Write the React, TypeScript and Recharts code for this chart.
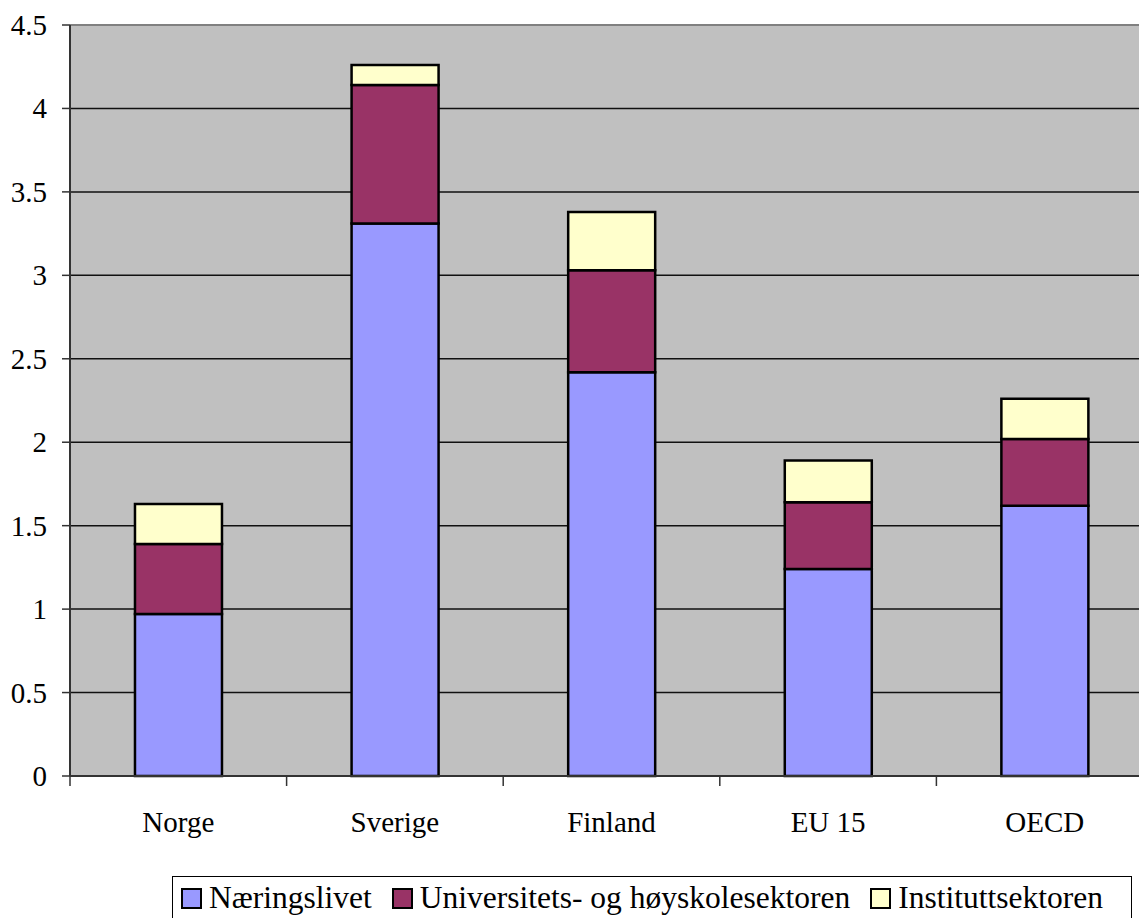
import React from 'react';
import { BarChart, Bar, XAxis, YAxis, CartesianGrid, ReferenceLine } from 'recharts';

const countries = ['Norge', 'Sverige', 'Finland', 'EU 15', 'OECD'];
const naeringslivet = [0.97, 3.31, 2.42, 1.24, 1.62];
const universitet = [0.42, 0.83, 0.61, 0.40, 0.40];
const institutt = [0.24, 0.12, 0.35, 0.25, 0.24];
const yTicks = [0, 0.5, 1, 1.5, 2, 2.5, 3, 3.5, 4, 4.5];

const series = [
  { key: 'naeringslivet', name: 'Næringslivet', color: '#9999ff' },
  { key: 'universitet', name: 'Universitets- og høyskolesektoren', color: '#993366' },
  { key: 'institutt', name: 'Instituttsektoren', color: '#ffffcc' },
];

const data = countries.map((name, i) => ({
  name,
  naeringslivet: naeringslivet[i],
  universitet: universitet[i],
  institutt: institutt[i],
}));

const font = '"Liberation Serif", "Times New Roman", serif';

const CHART_W = 1160;
const MARGIN = { top: 25, right: 7, left: 0, bottom: 0 };
const Y_W = 70;
const BAND = (CHART_W - MARGIN.left - MARGIN.right - Y_W) / countries.length;

// category label plus an Excel-style tick at the left edge of each category band
const CategoryTick = (props: any) => {
  const { x, y, payload } = props;
  const left = x - BAND / 2;
  return (
    <g>
      <line x1={left} y1={y} x2={left} y2={y + 10} stroke="#333" strokeWidth={1.5} />
      <text x={x} y={y} dy={56} textAnchor="middle" fill="#000" fontSize={29} fontFamily={font}>
        {payload.value}
      </text>
    </g>
  );
};

const ValueTick = (props: any) => {
  const { x, y, payload } = props;
  return (
    <text x={x} y={y} dy={10} textAnchor="end" fill="#000" fontSize={29} fontFamily={font}>
      {payload.value}
    </text>
  );
};

const App: React.FC = () => {
  return (
    <div style={{ position: 'absolute', left: 0, top: 0, width: 1139, height: 918, overflow: 'hidden', background: '#fff' }}>
      <BarChart
        width={CHART_W}
        height={860}
        data={data}
        margin={MARGIN}
        barCategoryGap="30%"
      >
        <CartesianGrid vertical={false} fill="#c0c0c0" stroke="#111" strokeWidth={1.5} />
        <XAxis
          dataKey="name"
          height={84}
          axisLine={{ stroke: '#333', strokeWidth: 2 }}
          tickLine={false}
          tickSize={0}
          tickMargin={0}
          tick={<CategoryTick />}
          interval={0}
        />
        <YAxis
          domain={[0, 4.5]}
          ticks={yTicks}
          width={Y_W}
          tickSize={8}
          tickMargin={15}
          axisLine={{ stroke: '#333', strokeWidth: 2 }}
          tickLine={{ stroke: '#333', strokeWidth: 1.5 }}
          tick={<ValueTick />}
        />
        <ReferenceLine y={4.5} stroke="#808080" strokeWidth={2} />
        {series.map((s) => (
          <Bar
            key={s.key}
            dataKey={s.key}
            name={s.name}
            stackId="a"
            fill={s.color}
            stroke="#000"
            strokeWidth={2.5}
            isAnimationActive={false}
          />
        ))}
      </BarChart>
      <div
        style={{
          position: 'absolute',
          left: 172,
          top: 876,
          width: 960,
          height: 60,
          boxSizing: 'border-box',
          border: '1.5px solid #000',
          display: 'flex',
          flexWrap: 'nowrap',
          alignItems: 'flex-start',
          paddingTop: 4,
          paddingLeft: 8,
          fontFamily: font,
          fontSize: 31.5,
          color: '#000',
          whiteSpace: 'nowrap',
        }}
      >
        {series.map((s) => (
          <div key={s.key} style={{ display: 'flex', flexShrink: 0, alignItems: 'center', marginRight: 20, lineHeight: '34px' }}>
            <span
              style={{
                display: 'inline-block',
                flexShrink: 0,
                width: 17,
                height: 17,
                background: s.color,
                border: '2px solid #000',
                marginRight: 7,
              }}
            />
            <span>{s.name}</span>
          </div>
        ))}
      </div>
    </div>
  );
};

export default App;
